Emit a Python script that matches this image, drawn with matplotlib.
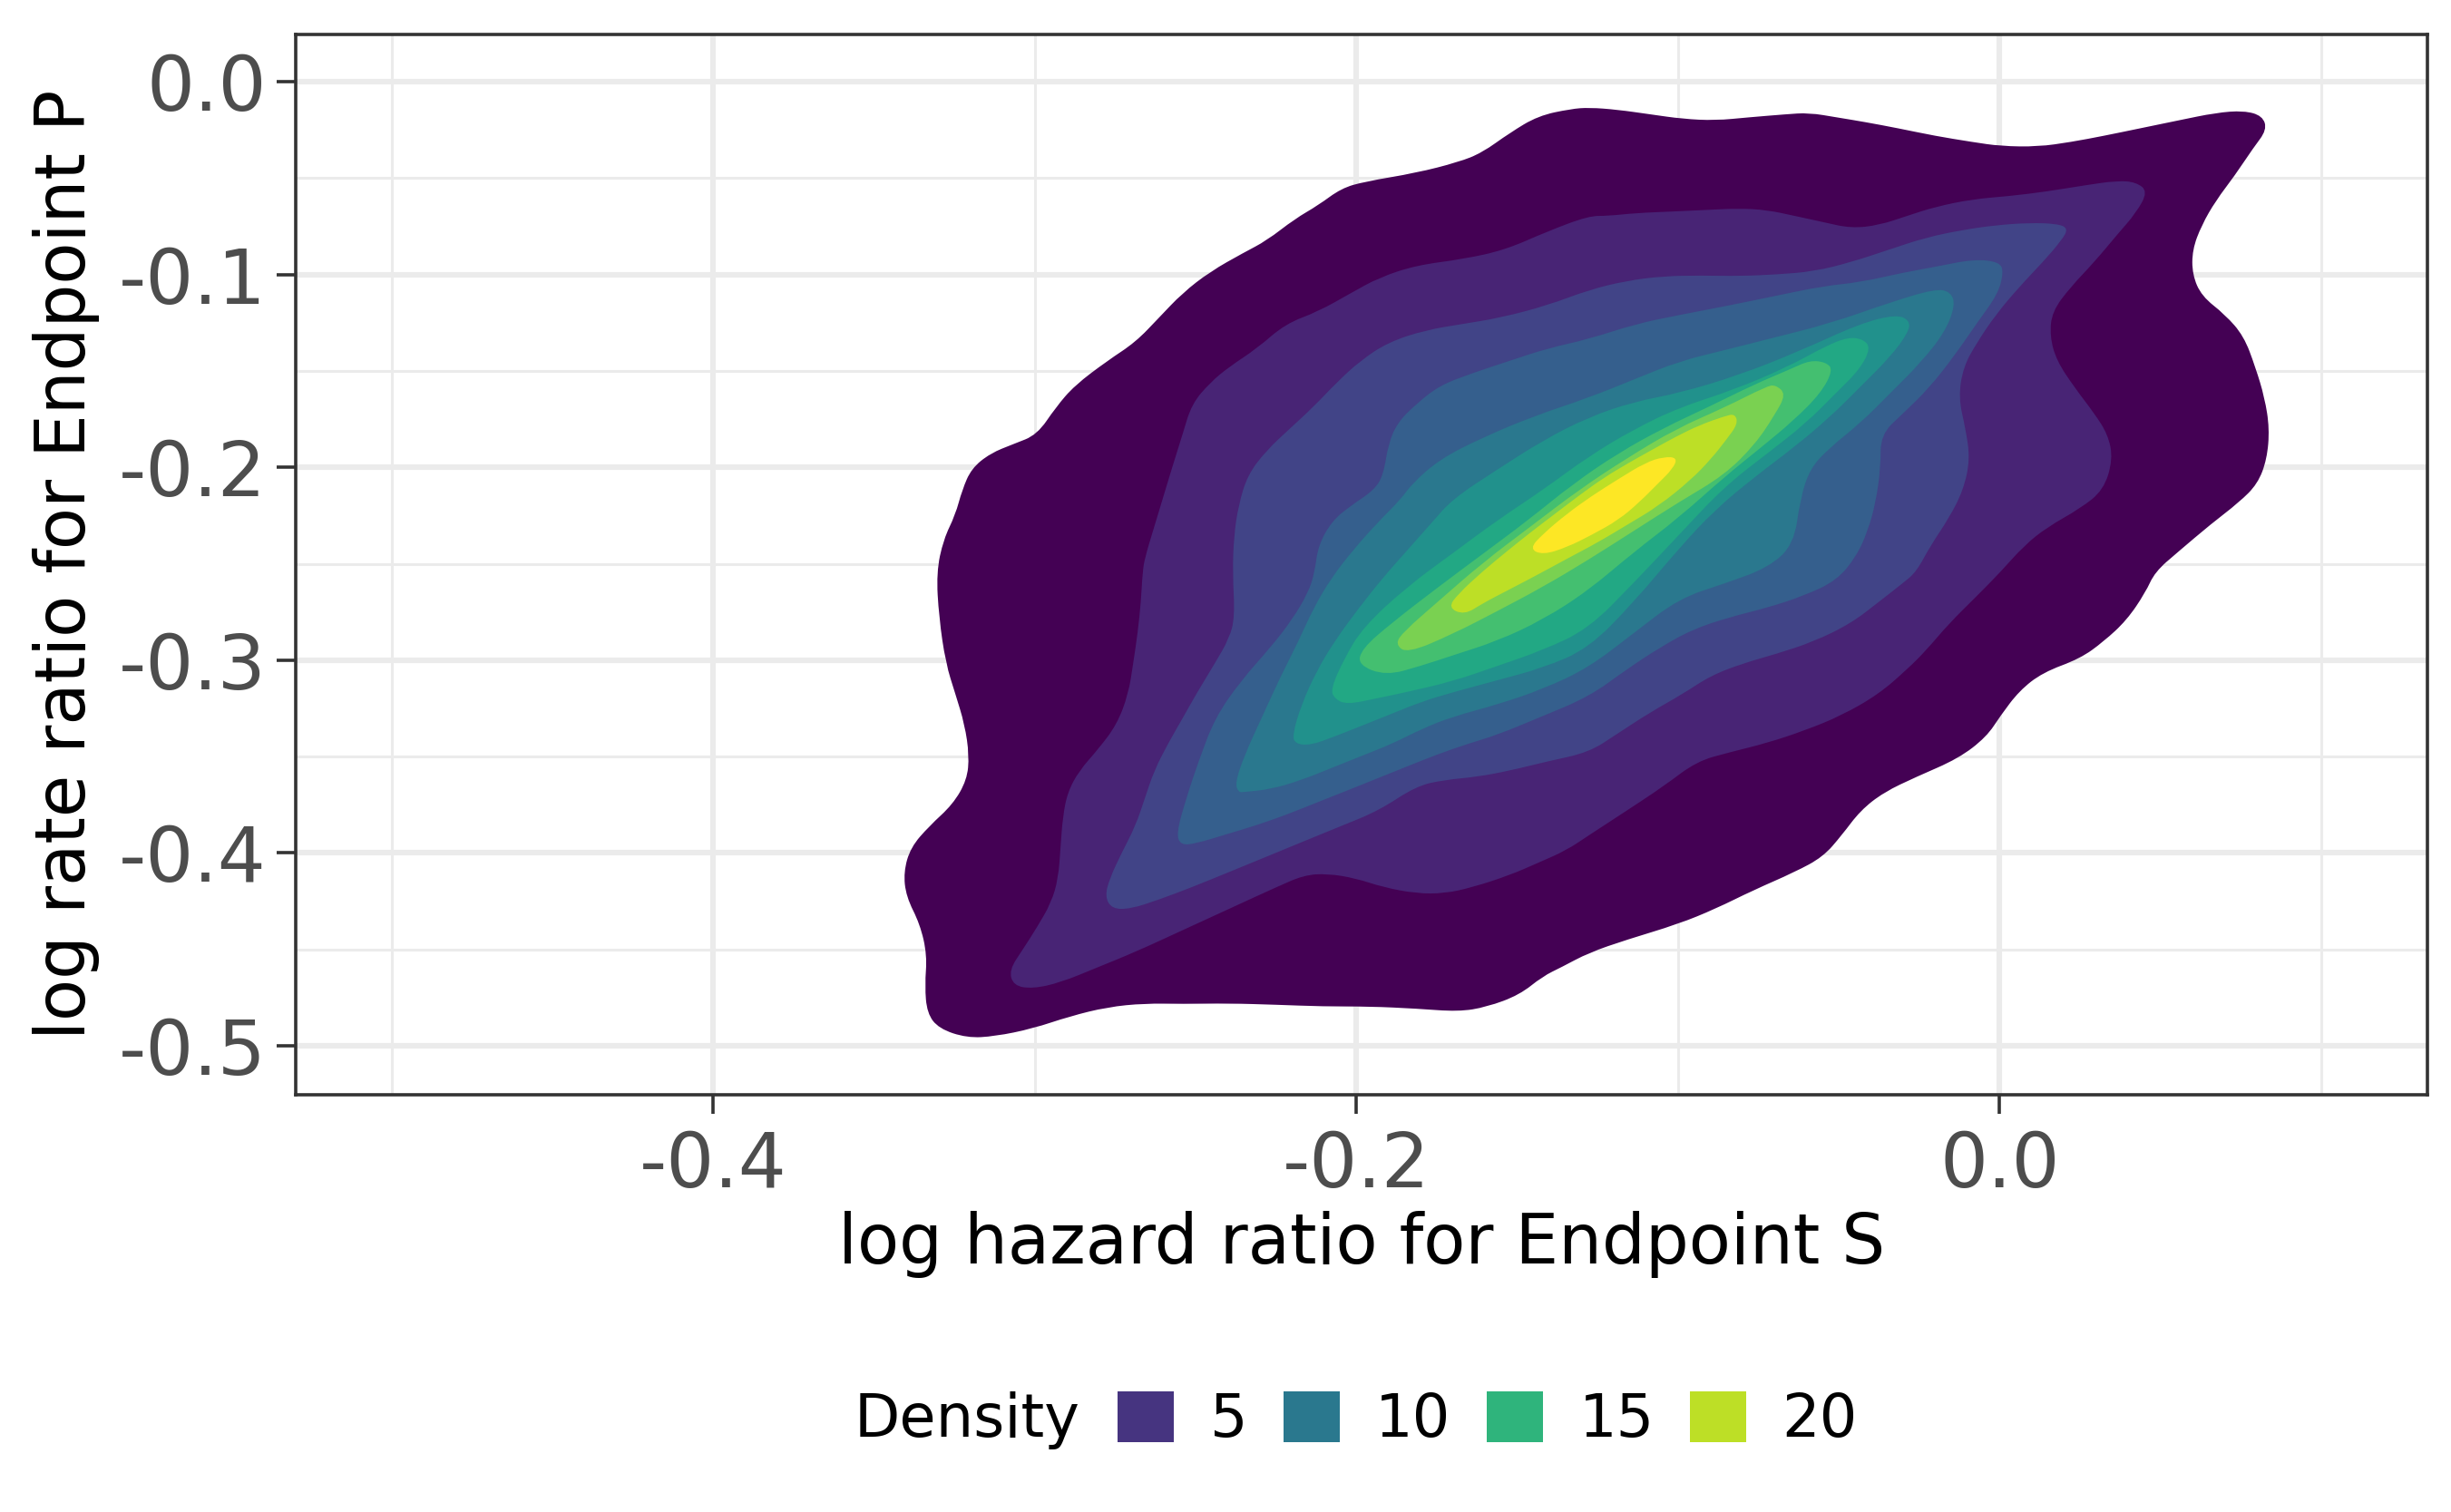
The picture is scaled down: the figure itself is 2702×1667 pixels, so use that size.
import matplotlib
matplotlib.use('Agg')
import matplotlib.pyplot as plt
from matplotlib.patches import Patch, PathPatch
from matplotlib.path import Path

plt.rcParams['font.family'] = ['DejaVu Sans']
plt.rcParams['axes.unicode_minus'] = False

# contour levels of the 2d density (outermost first)
contour_levels = [2, 4, 6, 8, 10, 12, 14, 16, 18, 20, 22]
legend_breaks = [5, 10, 15, 20]

x_ticks = [-0.4, -0.2, 0.0]
x_tick_labels = ['-0.4', '-0.2', '0.0']
y_ticks = [0.0, -0.1, -0.2, -0.3, -0.4, -0.5]
y_tick_labels = ['0.0', '-0.1', '-0.2', '-0.3', '-0.4', '-0.5']

# outlines, one per level: (log HR, log RR)
lvl2 = [(-0.1333, -0.0141), (-0.1435, -0.0177), (-0.1523, -0.0265), (-0.1610, -0.0369), (-0.1683, -0.0417),
        (-0.1814, -0.0473), (-0.1974, -0.0518), (-0.2047, -0.0553), (-0.2119, -0.0641), (-0.2192, -0.0712),
        (-0.2279, -0.0824), (-0.2352, -0.0888), (-0.2454, -0.0984), (-0.2541, -0.1096), (-0.2614, -0.1224),
        (-0.2687, -0.1351), (-0.2774, -0.1447), (-0.2876, -0.1575), (-0.2934, -0.1687), (-0.2993, -0.1831),
        (-0.3066, -0.1879), (-0.3138, -0.1927), (-0.3197, -0.2006), (-0.3226, -0.2118), (-0.3247, -0.2246),
        (-0.3284, -0.2374), (-0.3306, -0.2546), (-0.3298, -0.2777), (-0.3277, -0.3016), (-0.3247, -0.3175),
        (-0.3218, -0.3334), (-0.3204, -0.3494), (-0.3211, -0.3621), (-0.3255, -0.3748), (-0.3328, -0.3860),
        (-0.3386, -0.3971), (-0.3408, -0.4099), (-0.3400, -0.4226), (-0.3357, -0.4369), (-0.3335, -0.4529),
        (-0.3342, -0.4688), (-0.3335, -0.4831), (-0.3298, -0.4911), (-0.3211, -0.4959), (-0.3124, -0.4951),
        (-0.3007, -0.4911), (-0.2891, -0.4847), (-0.2774, -0.4799), (-0.2658, -0.4780), (-0.2541, -0.4783),
        (-0.2396, -0.4780), (-0.2250, -0.4787), (-0.2105, -0.4796), (-0.1959, -0.4796), (-0.1814, -0.4807),
        (-0.1683, -0.4823), (-0.1595, -0.4799), (-0.1493, -0.4736), (-0.1421, -0.4640), (-0.1362, -0.4592),
        (-0.1277, -0.4517), (-0.1160, -0.4450), (-0.1000, -0.4369), (-0.0884, -0.4290), (-0.0767, -0.4194),
        (-0.0637, -0.4099), (-0.0549, -0.4020), (-0.0491, -0.3908), (-0.0433, -0.3780), (-0.0360, -0.3685),
        (-0.0259, -0.3605), (-0.0128, -0.3510), (-0.0041, -0.3398), (0.0003, -0.3287), (0.0061, -0.3159),
        (0.0134, -0.3064), (0.0250, -0.2992), (0.0323, -0.2904), (0.0395, -0.2793), (0.0453, -0.2650),
        (0.0483, -0.2542), (0.0555, -0.2438), (0.0657, -0.2294), (0.0744, -0.2182), (0.0802, -0.2086),
        (0.0831, -0.1958), (0.0839, -0.1799), (0.0824, -0.1639), (0.0795, -0.1479), (0.0759, -0.1319),
        (0.0701, -0.1208), (0.0628, -0.1112), (0.0599, -0.1000), (0.0599, -0.0872), (0.0628, -0.0744),
        (0.0672, -0.0617), (0.0730, -0.0489), (0.0788, -0.0345), (0.0831, -0.0249), (0.0817, -0.0177),
        (0.0759, -0.0150), (0.0672, -0.0161), (0.0555, -0.0201), (0.0439, -0.0241), (0.0323, -0.0281),
        (0.0221, -0.0313), (0.0119, -0.0337), (0.0003, -0.0334), (-0.0084, -0.0313), (-0.0201, -0.0281),
        (-0.0317, -0.0241), (-0.0419, -0.0209), (-0.0506, -0.0185), (-0.0593, -0.0161), (-0.0666, -0.0169),
        (-0.0782, -0.0185), (-0.0884, -0.0201), (-0.0985, -0.0193), (-0.1087, -0.0169), (-0.1189, -0.0145),
        (-0.1276, -0.0134)]

lvl4 = [(-0.1278, -0.0696), (-0.1406, -0.0776), (-0.1537, -0.0872), (-0.1668, -0.0920), (-0.1814, -0.0952),
        (-0.1930, -0.1016), (-0.2017, -0.1096), (-0.2119, -0.1192), (-0.2221, -0.1256), (-0.2309, -0.1383),
        (-0.2396, -0.1479), (-0.2454, -0.1559), (-0.2512, -0.1671), (-0.2541, -0.1831), (-0.2571, -0.1990),
        (-0.2600, -0.2150), (-0.2629, -0.2310), (-0.2658, -0.2470), (-0.2665, -0.2546), (-0.2670, -0.2697),
        (-0.2680, -0.2857), (-0.2694, -0.3016), (-0.2709, -0.3175), (-0.2745, -0.3334), (-0.2803, -0.3462),
        (-0.2862, -0.3573), (-0.2898, -0.3685), (-0.2913, -0.3812), (-0.2920, -0.3971), (-0.2927, -0.4131),
        (-0.2949, -0.4258), (-0.2993, -0.4385), (-0.3036, -0.4497), (-0.3080, -0.4608), (-0.3066, -0.4688),
        (-0.3007, -0.4704), (-0.2920, -0.4672), (-0.2803, -0.4592), (-0.2687, -0.4513), (-0.2541, -0.4401),
        (-0.2396, -0.4290), (-0.2250, -0.4178), (-0.2163, -0.4115), (-0.2090, -0.4107), (-0.2003, -0.4131),
        (-0.1916, -0.4178), (-0.1814, -0.4210), (-0.1726, -0.4210), (-0.1639, -0.4178), (-0.1523, -0.4115),
        (-0.1435, -0.4051), (-0.1348, -0.3987), (-0.1277, -0.3908), (-0.1160, -0.3781), (-0.1044, -0.3653),
        (-0.0942, -0.3525), (-0.0840, -0.3478), (-0.0724, -0.3430), (-0.0608, -0.3366), (-0.0491, -0.3287),
        (-0.0375, -0.3175), (-0.0288, -0.3048), (-0.0230, -0.2952), (-0.0157, -0.2809), (-0.0070, -0.2666),
        (0.0003, -0.2542), (0.0076, -0.2406), (0.0148, -0.2310), (0.0250, -0.2214), (0.0323, -0.2118),
        (0.0352, -0.1958), (0.0337, -0.1831), (0.0294, -0.1719), (0.0235, -0.1591), (0.0177, -0.1447),
        (0.0156, -0.1319), (0.0163, -0.1192), (0.0221, -0.1064), (0.0294, -0.0936), (0.0366, -0.0792),
        (0.0424, -0.0681), (0.0461, -0.0569), (0.0424, -0.0521), (0.0366, -0.0513), (0.0265, -0.0537),
        (0.0148, -0.0569), (0.0032, -0.0593), (-0.0084, -0.0609), (-0.0201, -0.0649), (-0.0288, -0.0696),
        (-0.0375, -0.0744), (-0.0462, -0.0760), (-0.0549, -0.0728), (-0.0637, -0.0696), (-0.0724, -0.0665),
        (-0.0811, -0.0657), (-0.0913, -0.0665), (-0.1015, -0.0673), (-0.1131, -0.0681), (-0.1218, -0.0696)]

lvl6 = [(-0.1278, -0.1080), (-0.1406, -0.1160), (-0.1552, -0.1224), (-0.1668, -0.1256), (-0.1785, -0.1288),
        (-0.1901, -0.1351), (-0.1988, -0.1447), (-0.2061, -0.1559), (-0.2134, -0.1687), (-0.2207, -0.1799),
        (-0.2279, -0.1911), (-0.2338, -0.2038), (-0.2367, -0.2198), (-0.2381, -0.2358), (-0.2385, -0.2546),
        (-0.2378, -0.2777), (-0.2396, -0.2889), (-0.2440, -0.3016), (-0.2498, -0.3175), (-0.2541, -0.3303),
        (-0.2585, -0.3430), (-0.2629, -0.3573), (-0.2658, -0.3717), (-0.2687, -0.3860), (-0.2731, -0.4003),
        (-0.2767, -0.4131), (-0.2782, -0.4226), (-0.2760, -0.4290), (-0.2702, -0.4290), (-0.2614, -0.4242),
        (-0.2512, -0.4178), (-0.2396, -0.4099), (-0.2279, -0.4019), (-0.2163, -0.3939), (-0.2047, -0.3860),
        (-0.1930, -0.3780), (-0.1814, -0.3653), (-0.1726, -0.3621), (-0.1624, -0.3605), (-0.1523, -0.3573),
        (-0.1406, -0.3525), (-0.1277, -0.3478), (-0.1189, -0.3382), (-0.1087, -0.3271), (-0.0985, -0.3175),
        (-0.0898, -0.3080), (-0.0797, -0.3016), (-0.0695, -0.2968), (-0.0578, -0.2904), (-0.0462, -0.2809),
        (-0.0375, -0.2697), (-0.0302, -0.2602), (-0.0259, -0.2542), (-0.0215, -0.2406), (-0.0157, -0.2262),
        (-0.0113, -0.2118), (-0.0092, -0.1958), (-0.0106, -0.1799), (-0.0128, -0.1639), (-0.0113, -0.1479),
        (-0.0070, -0.1351), (-0.0012, -0.1208), (0.0061, -0.1064), (0.0134, -0.0936), (0.0192, -0.0824),
        (0.0214, -0.0760), (0.0177, -0.0736), (0.0090, -0.0732), (-0.0012, -0.0744), (-0.0113, -0.0768),
        (-0.0230, -0.0808), (-0.0346, -0.0872), (-0.0462, -0.0936), (-0.0578, -0.0984), (-0.0695, -0.1000),
        (-0.0811, -0.1008), (-0.0927, -0.1005), (-0.1044, -0.1008), (-0.1160, -0.1032)]

lvl8 = [(-0.2546, -0.3959), (-0.2560, -0.3900), (-0.2530, -0.3720), (-0.2490, -0.3520), (-0.2440, -0.3300),
        (-0.2360, -0.3108), (-0.2265, -0.2930), (-0.2200, -0.2790), (-0.2150, -0.2650), (-0.2130, -0.2546),
        (-0.2119, -0.2406), (-0.2076, -0.2278), (-0.2017, -0.2198), (-0.1945, -0.2118), (-0.1916, -0.2038),
        (-0.1901, -0.1879), (-0.1872, -0.1767), (-0.1814, -0.1671), (-0.1741, -0.1575), (-0.1639, -0.1511),
        (-0.1523, -0.1447), (-0.1406, -0.1383), (-0.1278, -0.1335), (-0.1131, -0.1256), (-0.0997, -0.1210),
        (-0.0840, -0.1160), (-0.0695, -0.1110), (-0.0549, -0.1060), (-0.0434, -0.1040), (-0.0300, -0.0990),
        (-0.0200, -0.0960), (-0.0080, -0.0920), (0.0000, -0.0935), (0.0012, -0.0988), (-0.0005, -0.1100),
        (-0.0070, -0.1250), (-0.0140, -0.1420), (-0.0220, -0.1590), (-0.0300, -0.1720), (-0.0370, -0.1830),
        (-0.0370, -0.2000), (-0.0385, -0.2180), (-0.0410, -0.2330), (-0.0445, -0.2460), (-0.0506, -0.2586),
        (-0.0608, -0.2666), (-0.0724, -0.2729), (-0.0840, -0.2777), (-0.0956, -0.2841), (-0.1058, -0.2936),
        (-0.1160, -0.3048), (-0.1277, -0.3190), (-0.1435, -0.3300), (-0.1561, -0.3387), (-0.1654, -0.3434),
        (-0.1749, -0.3489), (-0.1842, -0.3551), (-0.1936, -0.3614), (-0.2030, -0.3677), (-0.2124, -0.3739),
        (-0.2218, -0.3802), (-0.2312, -0.3857), (-0.2406, -0.3904), (-0.2499, -0.3951)]

lvl10 = [(-0.2367, -0.3685), (-0.2377, -0.3637), (-0.2349, -0.3496), (-0.2293, -0.3293), (-0.2237, -0.3089),
         (-0.2180, -0.2901), (-0.2133, -0.2728), (-0.2077, -0.2571), (-0.2011, -0.2430), (-0.1936, -0.2289),
         (-0.1861, -0.2164), (-0.1828, -0.2086), (-0.1741, -0.1958), (-0.1610, -0.1847), (-0.1450, -0.1735),
         (-0.1278, -0.1639), (-0.1131, -0.1540), (-0.0997, -0.1450), (-0.0850, -0.1390), (-0.0716, -0.1333),
         (-0.0528, -0.1254), (-0.0340, -0.1144), (-0.0200, -0.1074), (-0.0152, -0.1090), (-0.0138, -0.1160),
         (-0.0171, -0.1301), (-0.0246, -0.1458), (-0.0340, -0.1615), (-0.0434, -0.1772), (-0.0528, -0.1897),
         (-0.0590, -0.2007), (-0.0620, -0.2164), (-0.0640, -0.2400), (-0.0720, -0.2520), (-0.0850, -0.2600),
         (-0.0997, -0.2680), (-0.1138, -0.2860), (-0.1279, -0.3040), (-0.1420, -0.3150), (-0.1561, -0.3230),
         (-0.1701, -0.3293), (-0.1795, -0.3355), (-0.1889, -0.3434), (-0.1983, -0.3496), (-0.2077, -0.3559),
         (-0.2171, -0.3622), (-0.2265, -0.3669), (-0.2349, -0.3684)]

lvl12 = [(-0.2143, -0.3441), (-0.2190, -0.3434), (-0.2199, -0.3387), (-0.2171, -0.3230), (-0.2124, -0.3057),
         (-0.2068, -0.2901), (-0.1992, -0.2728), (-0.1917, -0.2571), (-0.1842, -0.2430), (-0.1767, -0.2289),
         (-0.1701, -0.2164), (-0.1561, -0.2010), (-0.1420, -0.1860), (-0.1279, -0.1740), (-0.1138, -0.1660),
         (-0.0997, -0.1615), (-0.0809, -0.1521), (-0.0621, -0.1396), (-0.0434, -0.1254), (-0.0321, -0.1207),
         (-0.0279, -0.1239), (-0.0284, -0.1301), (-0.0340, -0.1427), (-0.0434, -0.1584), (-0.0528, -0.1740),
         (-0.0640, -0.1897), (-0.0762, -0.2050), (-0.0885, -0.2220), (-0.0997, -0.2420), (-0.1138, -0.2700),
         (-0.1279, -0.2940), (-0.1420, -0.3040), (-0.1561, -0.3104), (-0.1701, -0.3167), (-0.1795, -0.3214),
         (-0.1889, -0.3277), (-0.1983, -0.3340), (-0.2077, -0.3402)]

lvl14 = [(-0.2068, -0.3200), (-0.2080, -0.3150), (-0.2039, -0.2995), (-0.1980, -0.2830), (-0.1842, -0.2618),
         (-0.1701, -0.2446), (-0.1561, -0.2273), (-0.1420, -0.2117), (-0.1279, -0.1944), (-0.1138, -0.1803),
         (-0.0997, -0.1690), (-0.0830, -0.1600), (-0.0660, -0.1480), (-0.0540, -0.1370), (-0.0471, -0.1325),
         (-0.0425, -0.1335), (-0.0401, -0.1380), (-0.0434, -0.1490), (-0.0509, -0.1615), (-0.0603, -0.1772),
         (-0.0716, -0.1920), (-0.0856, -0.2100), (-0.0997, -0.2350), (-0.1138, -0.2600), (-0.1279, -0.2838),
         (-0.1420, -0.2948), (-0.1561, -0.3030), (-0.1701, -0.3110), (-0.1842, -0.3165), (-0.1936, -0.3198),
         (-0.2030, -0.3230)]

lvl16 = [(-0.1995, -0.3025), (-0.1983, -0.2940), (-0.1889, -0.2805), (-0.1749, -0.2625), (-0.1608, -0.2450),
         (-0.1467, -0.2275), (-0.1326, -0.2085), (-0.1185, -0.1925), (-0.1044, -0.1795), (-0.0903, -0.1685),
         (-0.0763, -0.1570), (-0.0650, -0.1490), (-0.0590, -0.1445), (-0.0540, -0.1455), (-0.0518, -0.1495),
         (-0.0556, -0.1615), (-0.0640, -0.1756), (-0.0744, -0.1900), (-0.0856, -0.2050), (-0.0997, -0.2260),
         (-0.1138, -0.2440), (-0.1280, -0.2640), (-0.1420, -0.2790), (-0.1561, -0.2900), (-0.1700, -0.2975),
         (-0.1800, -0.3030), (-0.1908, -0.3080)]

lvl18 = [(-0.1880, -0.2916), (-0.1852, -0.2850), (-0.1749, -0.2700), (-0.1608, -0.2495), (-0.1457, -0.2305),
         (-0.1307, -0.2115), (-0.1157, -0.1950), (-0.1006, -0.1800), (-0.0856, -0.1690), (-0.0725, -0.1580),
         (-0.0697, -0.1572), (-0.0664, -0.1620), (-0.0700, -0.1730), (-0.0760, -0.1880), (-0.0856, -0.2040),
         (-0.0997, -0.2180), (-0.1138, -0.2330), (-0.1279, -0.2480), (-0.1420, -0.2620), (-0.1561, -0.2745),
         (-0.1701, -0.2865), (-0.1842, -0.2965)]

lvl20 = [(-0.1715, -0.2728), (-0.1683, -0.2655), (-0.1608, -0.2540), (-0.1532, -0.2435), (-0.1457, -0.2335),
         (-0.1382, -0.2240), (-0.1307, -0.2145), (-0.1232, -0.2055), (-0.1157, -0.1980), (-0.1082, -0.1910),
         (-0.1006, -0.1840), (-0.0932, -0.1780), (-0.0856, -0.1735), (-0.0823, -0.1722), (-0.0814, -0.1774),
         (-0.0849, -0.1855), (-0.0898, -0.1958), (-0.0960, -0.2065), (-0.1060, -0.2200), (-0.1160, -0.2300),
         (-0.1250, -0.2390), (-0.1343, -0.2472), (-0.1440, -0.2560), (-0.1532, -0.2640), (-0.1607, -0.2705),
         (-0.1664, -0.2765)]

lvl22 = [(-0.1462, -0.2422), (-0.1420, -0.2345), (-0.1345, -0.2240), (-0.1270, -0.2150), (-0.1185, -0.2060),
         (-0.1101, -0.1975), (-0.1044, -0.1945), (-0.1002, -0.1950), (-0.1016, -0.2007), (-0.1063, -0.2085),
         (-0.1119, -0.2179), (-0.1185, -0.2273), (-0.1270, -0.2352), (-0.1345, -0.2414), (-0.1420, -0.2454)]

outlines = [lvl2, lvl4, lvl6, lvl8, lvl10, lvl12, lvl14, lvl16, lvl18, lvl20, lvl22]

lo, hi = min(contour_levels), max(contour_levels)


def level_colour(v):
    return plt.cm.viridis((v - lo) / (hi - lo))


def smooth_outline(pts):
    # closed quadratic-bezier path that uses the traced points as control points
    n = len(pts)
    mids = [((pts[i][0] + pts[(i + 1) % n][0]) / 2, (pts[i][1] + pts[(i + 1) % n][1]) / 2)
            for i in range(n)]
    verts = [mids[0]]
    codes = [Path.MOVETO]
    for i in range(1, n + 1):
        verts += [pts[i % n], mids[i % n]]
        codes += [Path.CURVE3, Path.CURVE3]
    verts.append(mids[0])
    codes.append(Path.CLOSEPOLY)
    return Path(verts, codes)


fig = plt.figure(figsize=(13.51, 8.335), dpi=200)
ax = fig.add_axes([326 / 2702, 1 - 1207 / 1667, (2676 - 326) / 2702, (1207 - 38) / 1667])

# filled density polygons, outermost first
for lvl, pts in zip(contour_levels, outlines):
    ax.add_patch(PathPatch(smooth_outline(pts), facecolor=level_colour(lvl),
                           edgecolor='none', linewidth=0, zorder=2))

ax.set_xlim(-0.5298, 0.1330)
ax.set_ylim(-0.5254, 0.0245)

ax.set_xticks(x_ticks)
ax.set_xticklabels(x_tick_labels)
ax.set_xticks([-0.5, -0.3, -0.1, 0.1], minor=True)
ax.set_yticks(y_ticks)
ax.set_yticklabels(y_tick_labels)
ax.set_yticks([-0.05, -0.15, -0.25, -0.35, -0.45], minor=True)

ax.grid(which='major', color='#EBEBEB', linewidth=2.2, zorder=0)
ax.grid(which='minor', color='#EBEBEB', linewidth=1.1, zorder=0)
ax.set_axisbelow(True)

ax.tick_params(which='major', length=7.5, width=1.3, color='#333333',
               labelsize=30, labelcolor='#4D4D4D')
ax.tick_params(axis='x', which='major', pad=6)
ax.tick_params(axis='y', which='major', pad=4)
ax.tick_params(which='minor', length=0)
for s in ax.spines.values():
    s.set_color('#333333')
    s.set_linewidth(1.3)
    s.set_zorder(5)

ax.set_xlabel('log hazard ratio for Endpoint S', fontsize=27.2, color='black')
ax.set_ylabel('log rate ratio for Endpoint P', fontsize=27.2, color='black')
ax.xaxis.set_label_coords(0.5, (1207 - 1372) / 1169)
ax.xaxis.label.set_va('center')
ax.yaxis.set_label_coords((73 - 326) / 2350, 0.5)
ax.yaxis.label.set_va('center')

# legend row at the bottom
fig.text(942 / 2702, 1 - 1566 / 1667, 'Density', fontsize=23.6, ha='left', va='center')
handles = [Patch(facecolor=level_colour(b), edgecolor='none') for b in legend_breaks]
fig.legend(handles, [str(b) for b in legend_breaks], loc='center left',
           bbox_to_anchor=(1232 / 2702, 1 - 1566 / 1667), ncol=4, frameon=False,
           fontsize=23.6, handlelength=0.95, handleheight=0.95, handletextpad=0.6,
           columnspacing=0.6, borderpad=0, borderaxespad=0)

fig.savefig('out.png', dpi=200)
